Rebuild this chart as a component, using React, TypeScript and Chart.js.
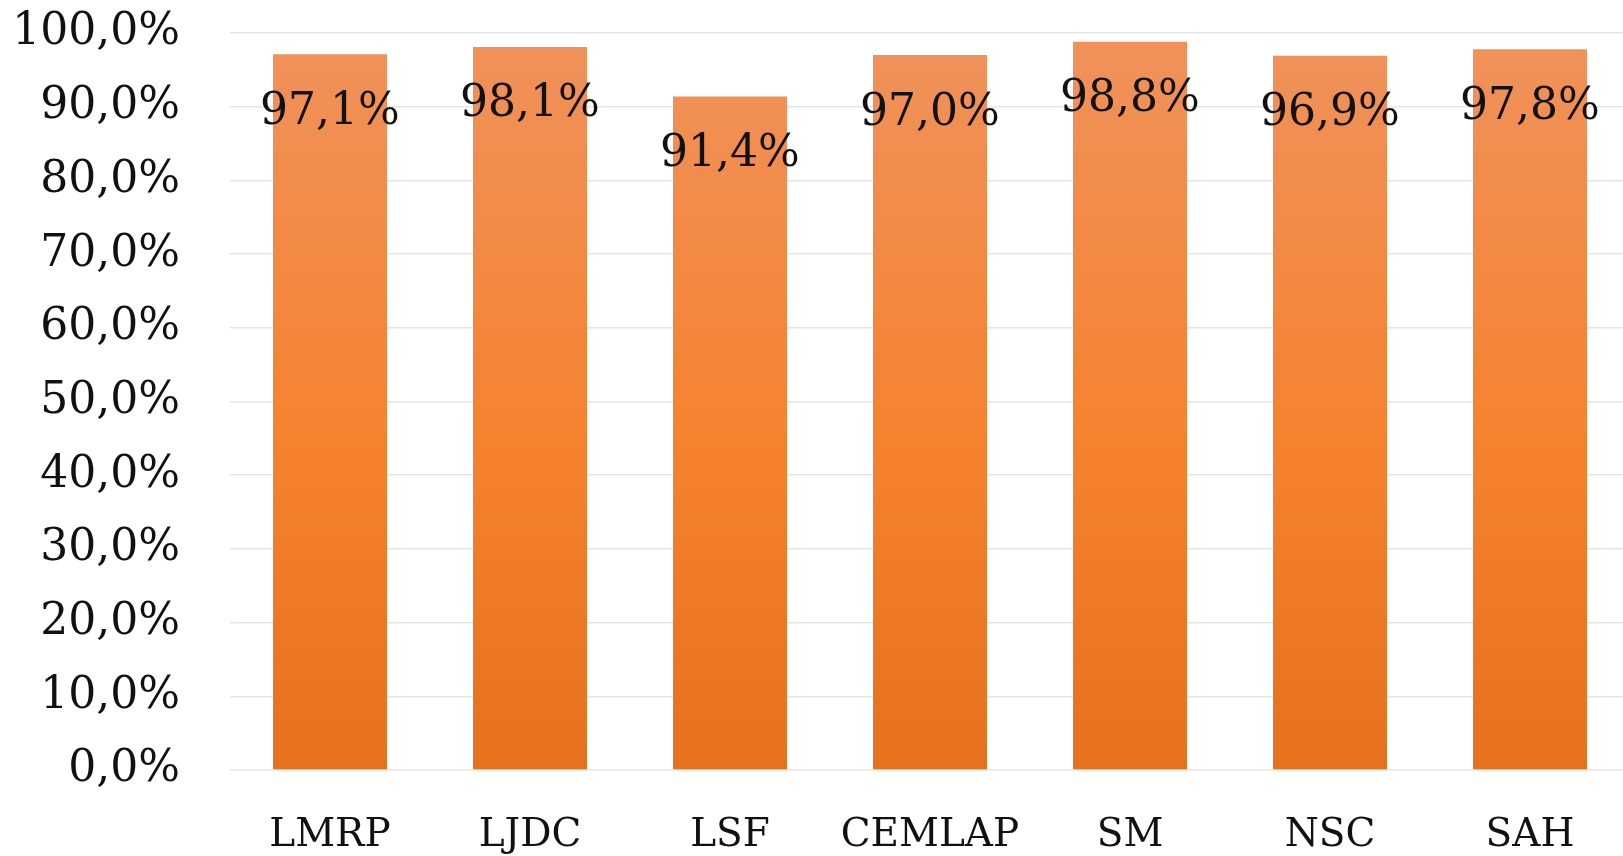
import React, { useEffect, useRef } from "react";
import { Chart, registerables } from "chart.js";

Chart.register(...registerables);

const categories = ["LMRP", "LJDC", "LSF", "CEMLAP", "SM", "NSC", "SAH"];
const values = [97.1, 98.1, 91.4, 97.0, 98.8, 96.9, 97.8];
const yMin = 0;
const yMax = 100;
const yStep = 10;

const fmt = (v: number) => v.toFixed(1).replace(".", ",") + "%";

const SERIF = "'DejaVu Serif', serif";

const dataLabelPlugin = {
  id: "dataLabels",
  afterDatasetsDraw(chart: any) {
    const ctx = chart.ctx;
    const meta = chart.getDatasetMeta(0);
    ctx.save();
    ctx.font = `44px ${SERIF}`;
    ctx.fillStyle = "#111";
    ctx.textAlign = "center";
    ctx.textBaseline = "middle";
    meta.data.forEach((bar: any, i: number) => {
      ctx.fillText(fmt(values[i]), bar.x, bar.y + 58);
    });
    ctx.restore();
  },
};

export default function App() {
  const ref = useRef<HTMLCanvasElement | null>(null);

  useEffect(() => {
    if (!ref.current) return;
    const chart = new Chart(ref.current, {
      type: "bar",
      data: {
        labels: categories,
        datasets: [
          {
            data: values,
            backgroundColor: (c: any) => {
              const area = c.chart.chartArea;
              if (!area) return "#F0822E";
              const g = c.chart.ctx.createLinearGradient(0, area.top, 0, area.bottom);
              g.addColorStop(0, "#F0925C");
              g.addColorStop(0.55, "#F5822F");
              g.addColorStop(1, "#E6711C");
              return g;
            },
            borderWidth: 0,
            barPercentage: 0.57,
            categoryPercentage: 1,
          },
        ],
      },
      options: {
        responsive: false,
        maintainAspectRatio: false,
        devicePixelRatio: 1,
        animation: false,
        layout: { padding: { top: 33, right: 10, left: 0, bottom: 0 } },
        plugins: {
          legend: { display: false },
          tooltip: { enabled: false },
        },
        scales: {
          x: {
            grid: { display: false },
            border: { display: false },
            ticks: {
              font: { family: SERIF, size: 39 },
              color: "#111",
              padding: 34,
              maxRotation: 0,
              autoSkip: false,
            },
            afterFit: (s: any) => {
              s.height = 86;
              s.paddingLeft = 0;
              s.paddingRight = 0;
            },
          },
          y: {
            min: yMin,
            max: yMax,
            grid: { color: "#E2E5EB", lineWidth: 1.5, drawTicks: false },
            border: { display: false },
            ticks: {
              stepSize: yStep,
              font: { family: SERIF, size: 44 },
              color: "#111",
              padding: 50,
              callback: (v: any) => fmt(Number(v)),
            },
            afterFit: (s: any) => {
              s.width = 230;
              s.paddingTop = 0;
              s.paddingBottom = 0;
            },
          },
        },
      },
      plugins: [dataLabelPlugin],
    });
    return () => chart.destroy();
  }, []);

  return (
    <div
      style={{
        position: "fixed",
        left: 0,
        top: 0,
        width: 1623,
        height: 856,
        overflow: "hidden",
        background: "#fff",
      }}
    >
      <canvas ref={ref} width={1640} height={856} style={{ display: "block" }} />
    </div>
  );
}
